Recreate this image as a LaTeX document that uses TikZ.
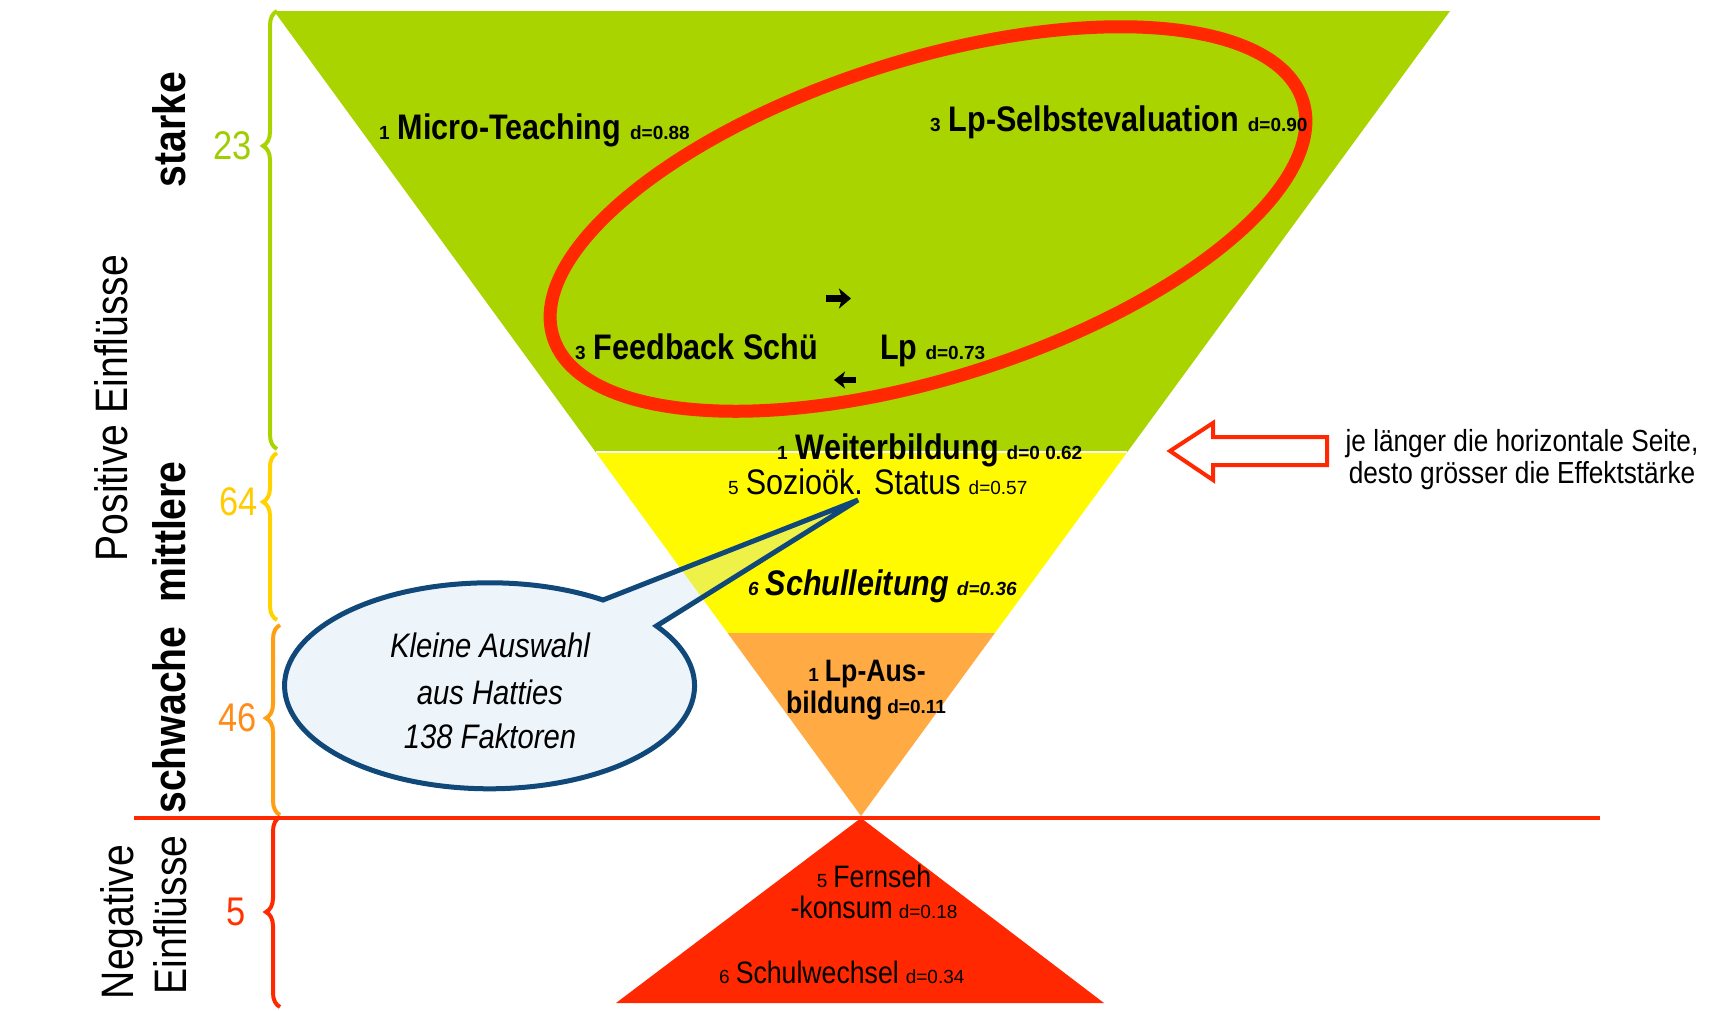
\documentclass[tikz,border=0pt]{standalone}
\usepackage{fontspec}
\setmainfont{Liberation Sans}
\newfontfamily\cnd[FakeStretch=0.86]{Liberation Sans}
\usetikzlibrary{decorations.pathreplacing,arrows.meta}
\definecolor{cgreen}{RGB}{170,212,0}
\definecolor{cyellow}{RGB}{255,250,0}
\definecolor{corange}{RGB}{255,170,66}
\definecolor{cred}{RGB}{255,40,0}
\definecolor{numgreen}{RGB}{160,205,0}
\definecolor{numyellow}{RGB}{255,204,0}
\definecolor{numorange}{RGB}{255,140,26}
\definecolor{numred}{RGB}{255,51,0}
\definecolor{braceyellow}{RGB}{255,210,0}
\definecolor{braceorange}{RGB}{255,160,20}
\definecolor{bubbleblue}{RGB}{16,72,122}
\definecolor{bubblefill}{RGB}{200,225,240}
\newcommand\fs[1]{\fontsize{#1}{#1}\selectfont}
\newcommand\sm[1]{{\rmfamily\fontsize{19}{22}\selectfont #1}}
\tikzset{
  lbl/.style={inner sep=0pt, anchor=base west},
  clbl/.style={inner sep=0pt, anchor=base},
  vlbl/.style={inner sep=0pt, anchor=base, rotate=90},
  numlbl/.style={inner sep=0pt, anchor=center},
  bracestyle/.style={decorate, line width=4pt},
}
\begin{document}
\begin{tikzpicture}[x=1pt,y=-1pt]
\useasboundingbox (0,0) rectangle (1718,1010);
\fill[white] (0,0) rectangle (1718,1010);
% bands
\fill[cgreen] (274,11) -- (1450,11) -- (1127.3,452) -- (595.6,452) -- cycle;
\fill[cyellow] (595.6,452) -- (1127.3,452) -- (994.9,633) -- (727.6,633) -- cycle;
\fill[corange] (727.6,633) -- (994.9,633) -- (861,816) -- cycle;
\draw[white, line width=1.5pt] (595.6,452) -- (1127.3,452);
% red ellipse
\draw[cred, line width=13pt, rotate around={17.5:(928,219)}] (928,219) ellipse [x radius=393, y radius=159];
% red line and negative triangle
\draw[cred, line width=4.5pt] (134,818) -- (1600,818);
\fill[cred] (861,818) -- (1104,1003) -- (616,1003) -- cycle;
% braces
\draw[bracestyle, cgreen, decoration={brace, amplitude=14pt, aspect=0.692}] (277,449) -- (277,11);
\draw[bracestyle, braceyellow, decoration={brace, amplitude=14pt, aspect=0.707}] (277,620) -- (277,453);
\draw[bracestyle, braceorange, decoration={brace, amplitude=14pt, aspect=0.51}] (280,815) -- (280,625);
\draw[bracestyle, cred, decoration={brace, amplitude=14pt, aspect=0.5}] (280,1007) -- (280,817);
% numbers
\node[numlbl, text=numgreen] (n23) at (233,146) {\cnd\fs{40}23};
\node[numlbl, text=numyellow] (n64) at (239,502) {\cnd\fs{40}64};
\node[numlbl, text=numorange] (n46) at (238,718) {\cnd\fs{40}46};
\node[numlbl, text=numred] (n5) at (236,912) {\cnd\fs{40}5};
% vertical labels
\node[vlbl] (starke) at (185,129.5) {\cnd\bfseries\fs{45.5}starke};
\node[vlbl] (posE) at (127,408) {\cnd\fs{45.5}Positive Einflüsse};
\node[vlbl] (mittlere) at (185,532) {\cnd\bfseries\fs{45.5}mittlere};
\node[vlbl] (schwache) at (185,720) {\cnd\bfseries\fs{45.5}schwache};
\node[vlbl] (negN) at (133.5,922) {\cnd\fs{45.5}Negative};
\node[vlbl] (negE) at (186,915) {\cnd\fs{45.5}Einflüsse};
% factor labels
\node[lbl] (micro) at (379,139) {\bfseries\sm{1}\hspace{8pt}{\cnd\fs{35.5}Micro-Teaching}\hspace{9pt}\sm{d=0.88}};
\node[lbl] (selbst) at (930,131) {\bfseries\sm{3}\hspace{8pt}{\cnd\fs{35.5}Lp-Selbstevaluation}\hspace{9pt}\sm{d=0.90}};
\node[lbl] (feedback) at (575,359) {\bfseries\sm{3}\hspace{8pt}{\cnd\fs{35.5}Feedback Schü}};
\node[lbl] (lp) at (880,359) {\bfseries{\cnd\fs{35.5}Lp}\hspace{8pt}\sm{d=0.73}};
\node[lbl] (weiter) at (777,459) {\bfseries\sm{1}\hspace{8pt}{\cnd\fs{35.5}Weiterbildung}\hspace{8pt}\sm{d=0 0.62}};
\node[lbl] (sozio) at (728,494) {\sm{5}\hspace{7pt}{\cnd\fs{35.5}Sozioök. Status}\hspace{8pt}\sm{d=0.57}};
\node[lbl] (schulleit) at (748,595) {\bfseries\itshape\sm{6}\hspace{7pt}{\cnd\fs{35.5}Schulleitung}\hspace{8pt}\sm{d=0.36}};
\node[clbl] (lpaus) at (867,681) {\bfseries\sm{1}\hspace{6pt}{\cnd\fs{31}Lp-Aus-}};
\node[clbl] (bildung) at (866,713) {\bfseries{\cnd\fs{31}bildung}\hspace{5pt}\sm{d=0.11}};
\node[clbl] (fern) at (874,887) {\sm{5}\hspace{6pt}{\cnd\fs{31}Fernseh}};
\node[clbl] (konsum) at (874,918) {{\cnd\fs{31}-konsum}\hspace{6pt}\sm{d=0.18}};
\node[lbl] (wechsel) at (719,983) {\sm{6}\hspace{6pt}{\cnd\fs{31}Schulwechsel}\hspace{7pt}\sm{d=0.34}};
% arrows between Feedback and Lp
\coordinate (r1s) at (826,298.5);
\coordinate (r1e) at (851,298.5);
\coordinate (l1s) at (856,380);
\coordinate (l1e) at (834,380);
\draw[line width=7pt, -{Stealth[length=12pt,width=20pt,inset=3pt]}] (r1s) -- (r1e);
\draw[line width=6pt, -{Stealth[length=11pt,width=17pt,inset=3pt]}] (l1s) -- (l1e);
% hollow arrow and explanation
\draw[cred, line width=4pt, fill=white, line join=miter] (1327,437) -- (1213,437) -- (1213,423) -- (1170,451) -- (1213,480) -- (1213,465) -- (1327,465) -- cycle;
\node[clbl] (expl1) at (1522,451) {\cnd\fs{30.5}je länger die horizontale Seite,};
\node[clbl] (expl2) at (1522,483) {\cnd\fs{30.5}desto grösser die Effektstärke};
% speech bubble
\draw[bubbleblue, line width=5pt, fill=bubblefill, fill opacity=0.3, line join=miter] (603,600) arc[start angle=-56.4, end angle=-395.5, x radius=205, y radius=103] -- (858,500) -- cycle;
\node[clbl] (b1) at (490,657) {\cnd\itshape\fs{34}Kleine Auswahl};
\node[clbl] (b2) at (490,704) {\cnd\itshape\fs{34}aus Hatties};
\node[clbl] (b3) at (490,748) {\cnd\itshape\fs{34}138 Faktoren};
\end{tikzpicture}
\end{document}
